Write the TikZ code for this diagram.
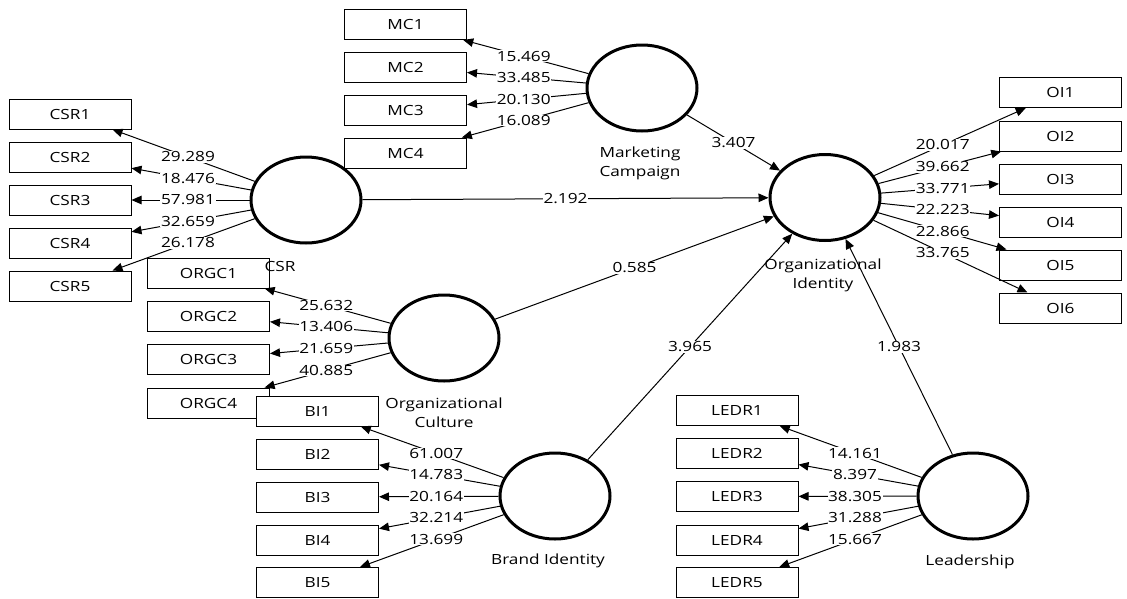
\documentclass[tikz,border=0pt]{standalone}
\usepackage{fontspec}
\setmainfont[FakeStretch=1.23]{Open Sans}
\usetikzlibrary{shapes.geometric,arrows.meta,calc}
\begin{document}
\begin{tikzpicture}[x=1pt,y=-1pt,
  lv/.style={ellipse,draw,line width=3pt,minimum width=110pt,minimum height=86pt,inner sep=0pt,fill=white},
  ind/.style={rectangle,draw,line width=1pt,minimum width=122pt,minimum height=30pt,inner sep=0pt,fill=white,text=black,font=\fontsize{14}{16}\selectfont},
  con/.style={line width=1pt,-{Triangle[length=10pt,width=8.5pt]}},
  val/.style={fill=white,inner sep=0.6pt,text=black,font=\fontsize{14}{16}\selectfont},
  lvname/.style={align=center,text=black,font=\fontsize{14}{19}\selectfont}]
\useasboundingbox (0,0) rectangle (1127,598);
% latent variables
\node[lv] (csr) at (306,200) {};
\node[lv] (mc) at (642,88) {};
\node[lv] (oi) at (825,197.5) {};
\node[lv] (orgc) at (444,338) {};
\node[lv] (bi) at (555,496) {};
\node[lv] (ledr) at (973,496) {};
% indicators
\foreach \n/\y in {1/114,2/157,3/200,4/243,5/286} \node[ind] (csr\n) at (70,\y) {CSR\n};
\foreach \n/\y in {1/24.5,2/67,3/110.5,4/153} \node[ind] (mc\n) at (405.5,\y) {MC\n};
\foreach \n/\y in {1/92.5,2/136,3/179,4/222,5/265,6/308} \node[ind] (oi\n) at (1060.5,\y) {OI\n};
\foreach \n/\y in {1/273,2/316,3/359,4/403} \node[ind] (orgc\n) at (208.5,\y) {ORGC\n};
\foreach \n/\y in {1/411,2/454,3/497,4/540,5/582.5} \node[ind] (bi\n) at (317.5,\y) {BI\n};
\foreach \n/\y in {1/410.5,2/453.5,3/496.5,4/540,5/582.5} \node[ind] (ledr\n) at (737,\y) {LEDR\n};
% latent names
\node[lvname] (csrname) at (280,266) {CSR};
\node[lvname] (mcname) at (640,163) {Marketing\\Campaign};
\node[lvname] (oiname) at (823,275) {Organizational\\Identity};
\node[lvname] (orgcname) at (444,413) {Organizational\\Culture};
\node[lvname] (biname) at (548,561) {Brand Identity};
\node[lvname] (ledrname) at (970,562) {Leadership};
% outer loadings
\foreach \n/\v in {1/29.289,2/18.476,3/57.981,4/32.659,5/26.178}
  {\draw[con] (csr) -- (csr\n); \node[val] (vcsr\n) at ($(csr)!0.5!(csr\n)$) {\v};}
\foreach \n/\v in {1/15.469,2/33.485,3/20.130,4/16.089}
  {\draw[con] (mc) -- (mc\n); \node[val] (vmc\n) at ($(mc)!0.5!(mc\n)$) {\v};}
\foreach \n/\v in {1/20.017,2/39.662,3/33.771,4/22.223,5/22.866,6/33.765}
  {\draw[con] (oi) -- (oi\n); \node[val] (voi\n) at ($(oi)!0.5!(oi\n)$) {\v};}
\foreach \n/\v in {1/25.632,2/13.406,3/21.659,4/40.885}
  {\draw[con] (orgc) -- (orgc\n); \node[val] (vorgc\n) at ($(orgc)!0.5!(orgc\n)$) {\v};}
\foreach \n/\v in {1/61.007,2/14.783,3/20.164,4/32.214,5/13.699}
  {\draw[con] (bi) -- (bi\n); \node[val] (vbi\n) at ($(bi)!0.5!(bi\n)$) {\v};}
\foreach \n/\v in {1/14.161,2/8.397,3/38.305,4/31.288,5/15.667}
  {\draw[con] (ledr) -- (ledr\n); \node[val] (vledr\n) at ($(ledr)!0.5!(ledr\n)$) {\v};}
% structural paths
\foreach \s/\v in {csr/2.192,mc/3.407,orgc/0.585,bi/3.965,ledr/1.983}
  {\draw[con] (\s) -- (oi); \node[val] (p\s) at ($(\s)!0.5!(oi)$) {\v};}
\end{tikzpicture}
\end{document}
